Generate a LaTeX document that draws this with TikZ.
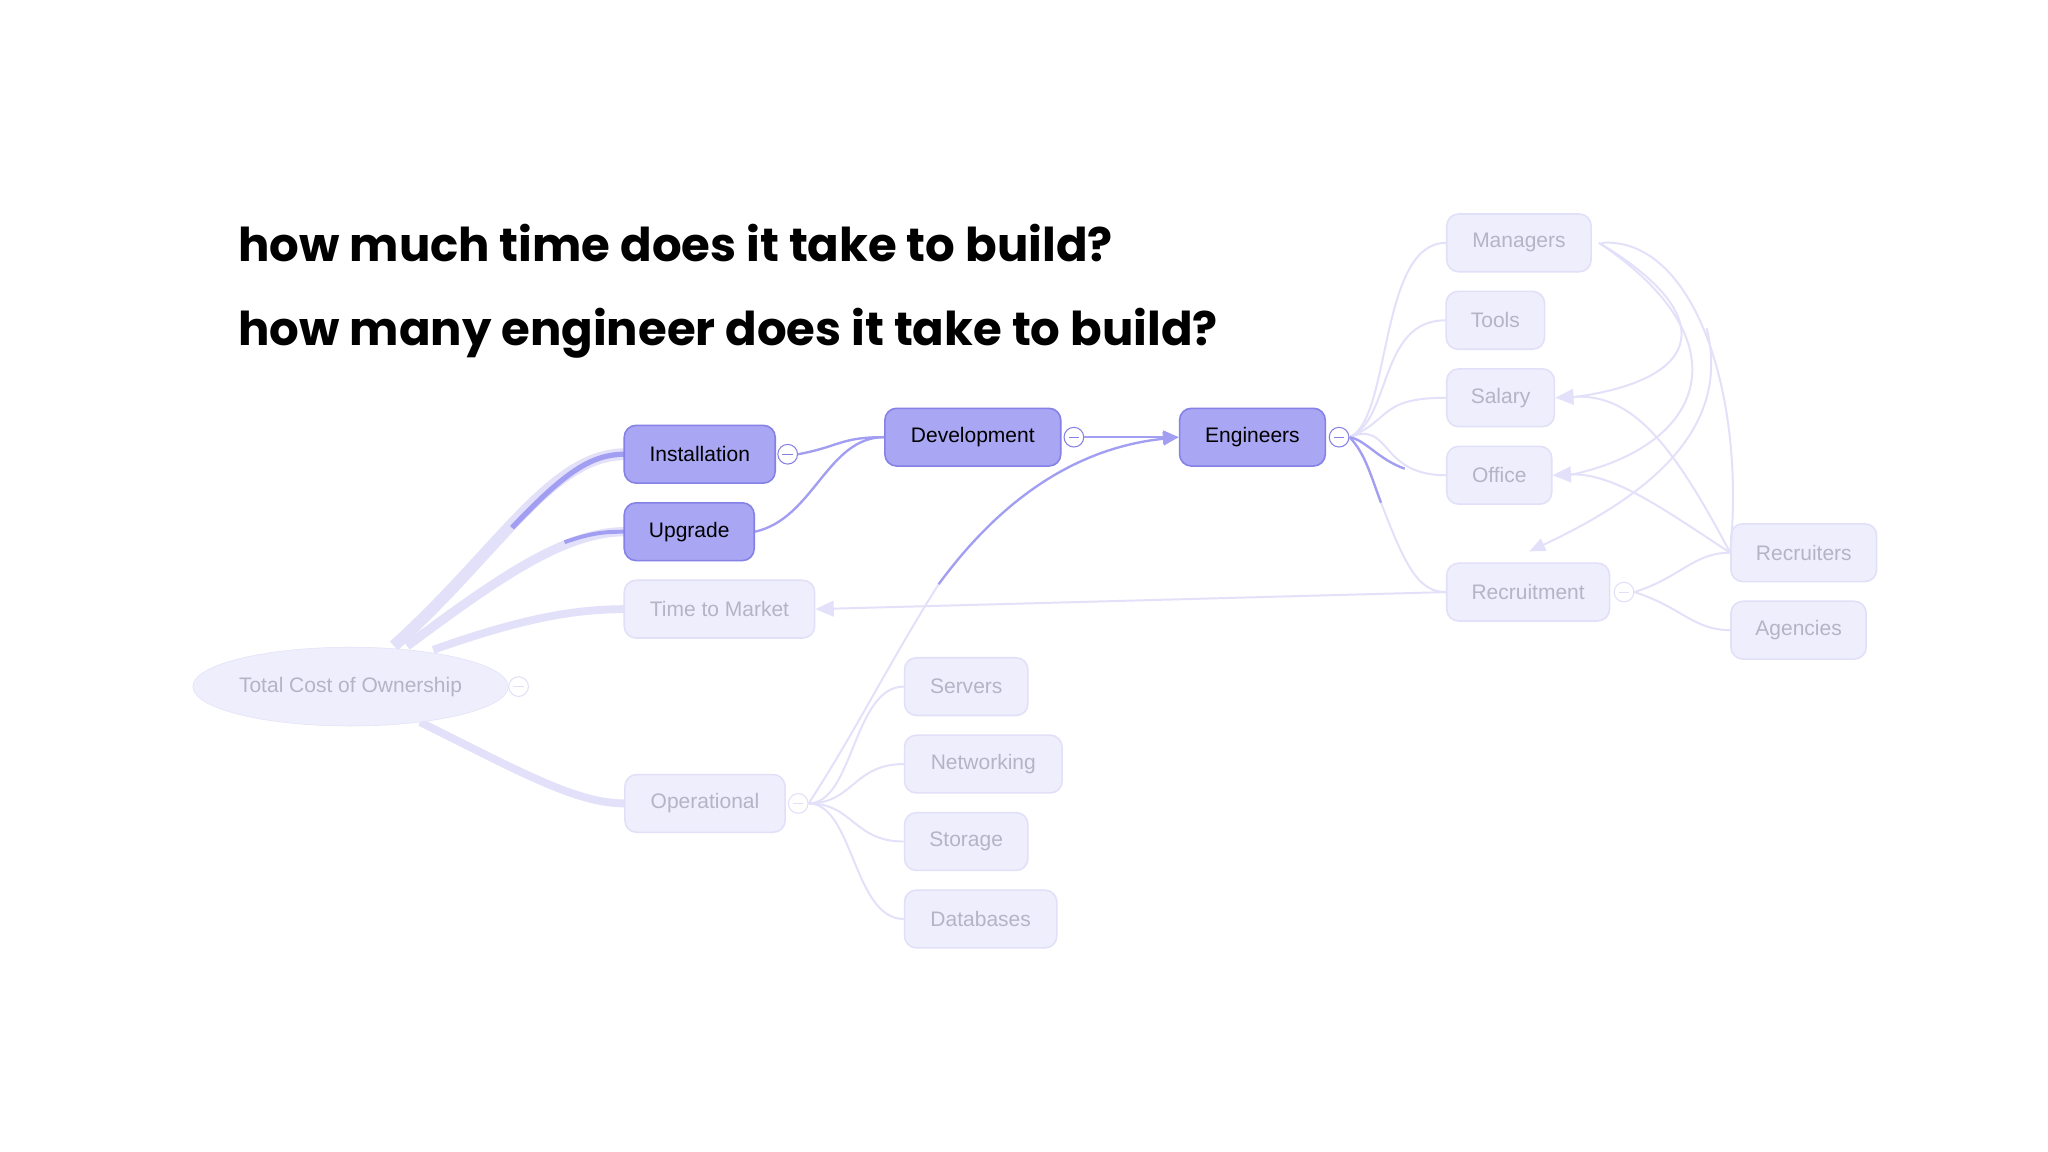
\documentclass[tikz,border=0pt]{standalone}
\usepackage{fontspec}
\setmainfont{Liberation Sans}
\newfontfamily\headfont{Poppins}
\usetikzlibrary{arrows.meta,shapes.geometric}
\definecolor{actfill}{HTML}{A9A6F4}
\definecolor{actdraw}{HTML}{8581E6}
\definecolor{fadefill}{HTML}{EFEEFC}
\definecolor{fadedraw}{HTML}{E2E0F8}
\definecolor{fadetext}{HTML}{B5B4C6}
\definecolor{fadeline}{HTML}{E3E1FA}
\definecolor{actline}{HTML}{A29EF2}
\begin{document}
\begin{tikzpicture}[x=1pt,y=-1pt,
  act/.style={draw=actdraw,fill=actfill,line width=1.2pt,rounded corners=9pt,minimum height=44pt,font=\fontsize{16}{18}\selectfont,text=black,inner sep=0pt},
  fade/.style={draw=fadedraw,fill=fadefill,line width=1.2pt,rounded corners=9pt,minimum height=44pt,font=\fontsize{16}{18}\selectfont,text=fadetext,inner sep=0pt},
  mk/.style={circle,draw=#1,fill=white,minimum size=15pt,inner sep=0pt,line width=0.8pt},
  fl/.style={draw=fadeline,line width=1.5pt},
  al/.style={draw=actline,line width=1.8pt}]
\useasboundingbox (0,0) rectangle (1560,877.5);
\fill[white] (0,0) rectangle (1560,877.5);
% edges from root
\draw[fadeline,line width=9pt] (300,492) .. controls (380,420) and (420,346) .. (476,346);
\draw[actline,line width=4pt] (390,402) .. controls (430,360) and (450,346) .. (476,346);
\draw[fadeline,line width=7pt] (310,492) .. controls (380,440) and (430,405) .. (476,405);
\draw[actline,line width=3pt] (430,413) .. controls (450,406) and (460,405) .. (476,405);
\draw[fadeline,line width=6pt] (330,495) .. controls (400,470) and (440,464) .. (476,464);
\draw[fadeline,line width=6pt] (320,550) .. controls (400,590) and (440,612) .. (476,612);
% nodes
\node[draw=fadedraw,fill=fadefill,ellipse,minimum width=236pt,minimum height=60pt,inner sep=0pt,font=\fontsize{16}{18}\selectfont,text=fadetext] (tco) at (267,523) {Total Cost of Ownership};
\node[act,minimum width=115pt] (inst) at (533,346) {Installation};
\node[act,minimum width=99pt] (upg) at (525,405) {Upgrade};
\node[act,minimum width=134pt] (dev) at (741,333) {Development};
\node[act,minimum width=111pt] (eng) at (954,333) {Engineers};
\node[fade,minimum width=145pt] (ttm) at (548,464) {Time to Market};
\node[fade,minimum width=122pt] (op) at (537,612) {Operational};
\node[fade,minimum width=94pt] (srv) at (736,523) {Servers};
\node[fade,minimum width=120pt] (net) at (749,582) {Networking};
\node[fade,minimum width=94pt] (sto) at (736,641) {Storage};
\node[fade,minimum width=116pt] (db) at (747,700) {Databases};
\node[fade,minimum width=110pt] (man) at (1157,185) {Managers};
\node[fade,minimum width=75pt] (tools) at (1139,244) {Tools};
\node[fade,minimum width=82pt] (sal) at (1143,303) {Salary};
\node[fade,minimum width=80pt] (off) at (1142,362) {Office};
\node[fade,minimum width=124pt] (rec) at (1164,451) {Recruitment};
\node[fade,minimum width=111pt] (rcr) at (1374,421) {Recruiters};
\node[fade,minimum width=103pt] (ag) at (1370,480) {Agencies};
% markers
\node[mk=actdraw] (m1) at (600,346) {};
\node[mk=actdraw] (m2) at (818,333) {};
\node[mk=actdraw] (m3) at (1020,333) {};
\node[mk=fadedraw] (m4) at (395,523) {};
\node[mk=fadedraw] (m5) at (608,612) {};
\node[mk=fadedraw] (m6) at (1237,451) {};
\foreach \m/\c in {m1/actdraw,m2/actdraw,m3/actdraw,m4/fadedraw,m5/fadedraw,m6/fadedraw}
  \draw[\c,line width=0.8pt] ([xshift=-4pt]\m.center) -- ([xshift=4pt]\m.center);
% active edges
\draw[al] (m1.east) .. controls (640,340) and (640,333) .. (dev.west);
\draw[al] (upg.east) .. controls (620,395) and (630,333) .. (dev.west);
\draw[al,-{Triangle[length=12pt,width=10pt]}] (m2.east) -- (eng.west);
\draw[fl] (m5.east) .. controls (650,560) and (680,500) .. (715,445);
\draw[al,-{Triangle[length=12pt,width=10pt]}] (715,445) .. controls (770,370) and (830,340) .. (eng.west);
% operational children
\foreach \t/\yy in {srv/523,net/582,sto/641,db/700} \draw[fl] (m5.east) .. controls (650,612) and (650,\yy) .. (\t.west);
% engineer children
\foreach \t/\yy in {man/185,tools/244,sal/303,off/362} \draw[fl] (m3.east) .. controls (1060,320) and (1050,\yy) .. (\t.west);
\draw[al] (m3.east) .. controls (1040,335) and (1050,350) .. (1070,357);
\draw[al] (m3.east) .. controls (1040,345) and (1045,365) .. (1052,383);
\draw[fl] (1052,383) .. controls (1070,430) and (1080,451) .. (rec.west);
% recruitment
\draw[fl,-{Triangle[length=14pt,width=12pt]}] (rec.west) -- (ttm.east);
\draw[fl] (m6.east) .. controls (1280,440) and (1290,421) .. (rcr.west);
\draw[fl] (m6.east) .. controls (1280,462) and (1290,480) .. (ag.west);
\draw[fl,-{Triangle[length=14pt,width=12pt]}] (rcr.west) .. controls (1270,330) and (1240,300) .. (sal.east);
\draw[fl,-{Triangle[length=14pt,width=12pt]}] (rcr.west) .. controls (1270,390) and (1230,360) .. (off.east);
\draw[fl] (rcr.west) .. controls (1330,300) and (1290,180) .. (1220,185);
\draw[fl,-{Triangle[length=12pt,width=10pt]}] (1300,250) .. controls (1320,330) and (1250,380) .. (1165,420);
\draw[fl] (1218,185) .. controls (1310,240) and (1300,290) .. (1195,303);
\draw[fl] (1218,185) .. controls (1330,260) and (1300,340) .. (1195,362);
% headings
\node[anchor=west,font=\headfont\fontsize{35.5}{40}\selectfont\bfseries] (h1) at (178,185) {how much time does it take to build?};
\node[anchor=west,font=\headfont\fontsize{35.5}{40}\selectfont\bfseries] (h2) at (178,254) {how many engineer does it take to build?};
\end{tikzpicture}
\end{document}
